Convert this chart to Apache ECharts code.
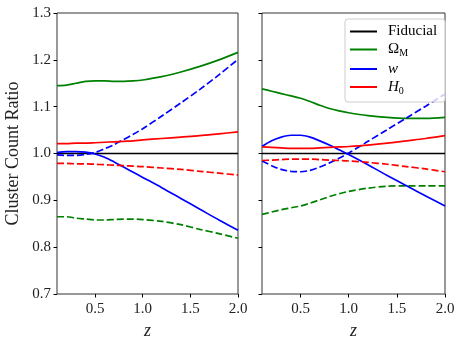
<!DOCTYPE html>
<html>
<head>
<meta charset="utf-8">
<script src="https://cdn.jsdelivr.net/npm/echarts@6/dist/echarts.min.js"></script>
<style>
  html, body { margin: 0; padding: 0; background: #fff; }
  #chart { width: 463px; height: 345px; }
</style>
</head>
<body>
<div id="chart"></div>
<script>
// redshift samples shared by every curve
var zs = [0.1, 0.2, 0.3, 0.4, 0.5, 0.6, 0.7, 0.8, 0.9, 1.0, 1.2, 1.4, 1.6, 1.8, 2.0];

// left panel
var leftOmUp   = [1.145, 1.146, 1.150, 1.154, 1.155, 1.155, 1.154, 1.154, 1.155, 1.157, 1.164, 1.174, 1.186, 1.200, 1.216];
var leftOmDown = [0.865, 0.865, 0.862, 0.860, 0.858, 0.858, 0.859, 0.860, 0.860, 0.859, 0.855, 0.848, 0.838, 0.829, 0.819];
var leftWUp    = [1.002, 1.004, 1.004, 1.003, 0.999, 0.992, 0.982, 0.971, 0.960, 0.949, 0.927, 0.904, 0.881, 0.858, 0.836];
var leftWDown  = [0.997, 0.996, 0.996, 0.998, 1.002, 1.010, 1.019, 1.030, 1.041, 1.053, 1.080, 1.108, 1.137, 1.168, 1.201];
var leftHUp    = [1.021, 1.021, 1.022, 1.022, 1.023, 1.024, 1.025, 1.026, 1.027, 1.029, 1.032, 1.035, 1.038, 1.042, 1.046];
var leftHDown  = [0.979, 0.979, 0.978, 0.978, 0.977, 0.976, 0.975, 0.974, 0.973, 0.972, 0.969, 0.966, 0.962, 0.958, 0.954];

// right panel
var rightOmUp   = [1.138, 1.133, 1.128, 1.123, 1.118, 1.111, 1.103, 1.096, 1.091, 1.087, 1.081, 1.077, 1.075, 1.075, 1.077];
var rightOmDown = [0.870, 0.875, 0.880, 0.884, 0.888, 0.894, 0.901, 0.908, 0.914, 0.919, 0.926, 0.930, 0.931, 0.931, 0.931];
var rightWUp    = [1.015, 1.027, 1.035, 1.039, 1.039, 1.035, 1.027, 1.018, 1.008, 0.998, 0.976, 0.953, 0.931, 0.909, 0.888];
var rightWDown  = [0.984, 0.974, 0.966, 0.962, 0.961, 0.964, 0.971, 0.980, 0.990, 1.001, 1.026, 1.051, 1.076, 1.101, 1.127];
var rightHUp    = [1.014, 1.013, 1.012, 1.011, 1.011, 1.011, 1.012, 1.013, 1.014, 1.015, 1.018, 1.022, 1.027, 1.032, 1.038];
var rightHDown  = [0.985, 0.986, 0.987, 0.988, 0.988, 0.988, 0.987, 0.986, 0.985, 0.984, 0.981, 0.977, 0.972, 0.967, 0.961];

var fiducial = [1, 1, 1, 1, 1, 1, 1, 1, 1, 1, 1, 1, 1, 1, 1];

var xTicks = [0.5, 1.0, 1.5, 2.0];
var font = 'Liberation Serif';

function pairs(vals) {
  return zs.map(function (z, i) { return [z, vals[i]]; });
}

function line(name, vals, color, dashed, idx) {
  return {
    name: name,
    type: 'line',
    xAxisIndex: idx,
    yAxisIndex: idx,
    data: pairs(vals),
    smooth: 0.3,
    symbol: 'none',
    lineStyle: { color: color, width: 1.7, type: dashed ? [7, 3] : 'solid' },
    itemStyle: { color: color },
    z: name === 'Fiducial' ? 1 : 2
  };
}

function xAxis(idx) {
  return {
    type: 'value',
    gridIndex: idx,
    min: 0.1,
    max: 2.0,
    name: 'z',
    nameLocation: 'middle',
    nameGap: 22,
    nameTextStyle: { fontFamily: font, fontStyle: 'italic', fontSize: 18, color: '#222' },
    splitLine: { show: false },
    axisLine: { show: false },
    axisTick: { show: true, inside: false, length: 3.5, customValues: xTicks, lineStyle: { color: '#000' } },
    axisLabel: {
      customValues: xTicks, fontFamily: font, fontSize: 15, color: '#222', margin: 8,
      formatter: function (v) { return v.toFixed(1); }
    }
  };
}

function yAxis(idx) {
  return {
    type: 'value',
    gridIndex: idx,
    min: 0.7,
    max: 1.3,
    interval: 0.1,
    name: idx === 0 ? 'Cluster Count Ratio' : '',
    nameLocation: 'middle',
    nameGap: 35,
    nameTextStyle: { fontFamily: font, fontSize: 18, color: '#222' },
    splitLine: { show: false },
    axisLine: { show: false },
    axisTick: { show: true, inside: false, length: 3.5, lineStyle: { color: '#000' } },
    axisLabel: {
      show: idx === 0, fontFamily: font, fontSize: 15, color: '#222', margin: 6,
      formatter: function (v) { return v.toFixed(1); }
    }
  };
}

var chart = echarts.init(document.getElementById('chart'), null, { renderer: 'canvas' });

var option = {
  animation: false,
  backgroundColor: '#fff',
  grid: [
    { left: 57, right: 225, top: 13, bottom: 51, show: true, borderColor: '#333', borderWidth: 1 },
    { left: 262, right: 18, top: 13, bottom: 51, show: true, borderColor: '#333', borderWidth: 1 }
  ],
  xAxis: [xAxis(0), xAxis(1)],
  yAxis: [yAxis(0), yAxis(1)],
  legend: {
    data: ['Fiducial', 'OmegaM', 'w', 'H0'],
    orient: 'vertical',
    left: 345,
    top: 19,
    icon: 'rect',
    itemWidth: 27,
    itemHeight: 2,
    itemGap: 3,
    padding: [5, 8, 6, 5],
    backgroundColor: 'rgba(255,255,255,0.8)',
    borderColor: '#ccc',
    borderWidth: 1,
    borderRadius: 3,
    selectedMode: false,
    textStyle: {
      fontFamily: font, fontSize: 15, color: '#000', padding: [0, 0, 0, 6],
      rich: {
        i: { fontFamily: font, fontSize: 15, fontStyle: 'italic' },
        sub: { fontFamily: font, fontSize: 10, padding: [8, 0, 0, 0] }
      }
    },
    formatter: function (name) {
      if (name === 'OmegaM') return 'Ω{sub|M}';
      if (name === 'w') return '{i|w}';
      if (name === 'H0') return '{i|H}{sub|0}';
      return name;
    }
  },
  series: [
    line('Fiducial', fiducial, '#000000', false, 0),
    line('OmegaM', leftOmUp, '#008000', false, 0),
    line('OmegaM low L', leftOmDown, '#008000', true, 0),
    line('w', leftWUp, '#0000ff', false, 0),
    line('w low L', leftWDown, '#0000ff', true, 0),
    line('H0', leftHUp, '#ff0000', false, 0),
    line('H0 low L', leftHDown, '#ff0000', true, 0),

    line('Fiducial', fiducial, '#000000', false, 1),
    line('OmegaM', rightOmUp, '#008000', false, 1),
    line('OmegaM low R', rightOmDown, '#008000', true, 1),
    line('w', rightWUp, '#0000ff', false, 1),
    line('w low R', rightWDown, '#0000ff', true, 1),
    line('H0', rightHUp, '#ff0000', false, 1),
    line('H0 low R', rightHDown, '#ff0000', true, 1)
  ]
};

chart.setOption(option);
</script>
</body>
</html>
